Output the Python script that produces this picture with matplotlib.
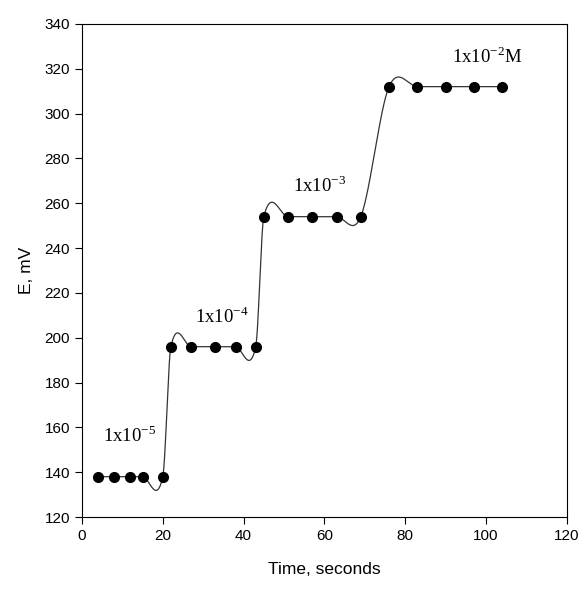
import numpy as np
import matplotlib
matplotlib.use("Agg")
import matplotlib.pyplot as plt

plt.rcParams['font.family'] = ['Liberation Sans', 'DejaVu Sans']
plt.rcParams['mathtext.fontset'] = 'custom'
plt.rcParams['mathtext.rm'] = 'Liberation Serif'

# readings after each concentration step
time_s = [4, 8, 12, 15, 20,
          22, 27, 33, 38, 43,
          45, 51, 57, 63, 69,
          76, 83, 90, 97, 104]
e_mv = [138, 138, 138, 138, 138,
        196, 196, 196, 196, 196,
        254, 254, 254, 254, 254,
        312, 312, 312, 312, 312]

conc_labels = ['1x10$^{\\mathregular{-5}}$', '1x10$^{\\mathregular{-4}}$',
               '1x10$^{\\mathregular{-3}}$', '1x10$^{\\mathregular{-2}}$M']
label_x = [5.2, 28.0, 52.3, 91.5]
label_y = [153.5, 206.6, 264.9, 322.6]


def hermite_curve(x, y, xs):
    # cardinal (Catmull-Rom style) spline, tangents from neighbouring points
    x = np.asarray(x, float)
    y = np.asarray(y, float)
    m = np.empty_like(y)
    m[1:-1] = (y[2:] - y[:-2]) / (x[2:] - x[:-2])
    m[0] = (y[1] - y[0]) / (x[1] - x[0])
    m[-1] = (y[-1] - y[-2]) / (x[-1] - x[-2])
    idx = np.clip(np.searchsorted(x, xs) - 1, 0, len(x) - 2)
    h = x[idx + 1] - x[idx]
    t = (xs - x[idx]) / h
    h00 = 2 * t ** 3 - 3 * t ** 2 + 1
    h10 = t ** 3 - 2 * t ** 2 + t
    h01 = -2 * t ** 3 + 3 * t ** 2
    h11 = t ** 3 - t ** 2
    return h00 * y[idx] + h10 * h * m[idx] + h01 * y[idx + 1] + h11 * h * m[idx + 1]


fig = plt.figure(figsize=(5.79, 5.97), dpi=100)
ax = fig.add_axes([0.1416, 0.134, 0.8374, 0.826])

xs = np.linspace(time_s[0], time_s[-1], 2000)
ax.plot(xs, hermite_curve(time_s, e_mv, xs), color='#333333', lw=0.9)
ax.plot(time_s, e_mv, 'o', color='black', ms=7, mec='black')

for txt, lx, ly in zip(conc_labels, label_x, label_y):
    ax.text(lx, ly, txt, fontsize=13.5, family='Liberation Serif',
            ha='left', va='baseline')

ax.set_xlim(0, 120)
ax.set_ylim(120, 340)
ax.set_xticks(np.arange(0, 121, 20))
ax.set_yticks(np.arange(120, 341, 20))
ax.tick_params(direction='out', length=5, width=0.8, labelsize=11,
               top=False, right=False)
for s in ax.spines.values():
    s.set_linewidth(0.8)

ax.set_xlabel('Time, seconds', fontsize=12.5, labelpad=14)
ax.set_ylabel('E, mV', fontsize=12.5, labelpad=8)

fig.savefig('out.png', dpi=100)
